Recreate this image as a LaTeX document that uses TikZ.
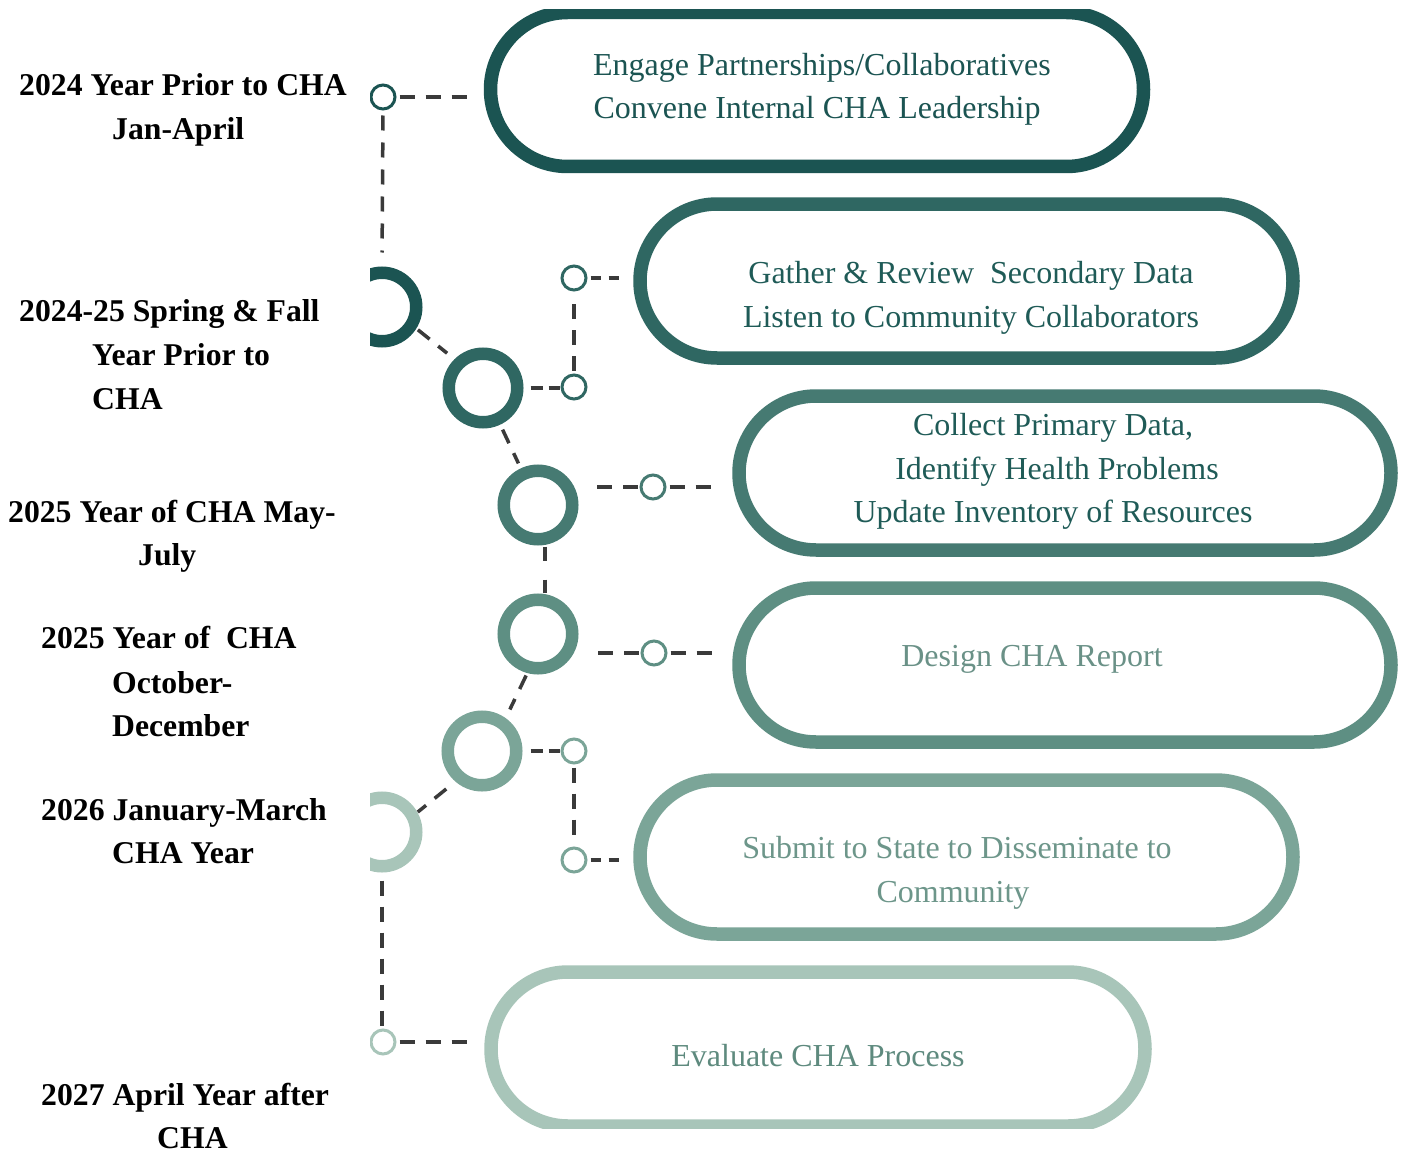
\documentclass[tikz,border=0pt]{standalone}
\usepackage{fontspec}
\setmainfont{Liberation Serif}
\usetikzlibrary{calc}
\definecolor{ca}{HTML}{1B5452}
\definecolor{cb}{HTML}{2F6762}
\definecolor{cc}{HTML}{467A72}
\definecolor{cd}{HTML}{5E8F83}
\definecolor{ce}{HTML}{7BA598}
\definecolor{cf}{HTML}{A8C5B9}
\definecolor{ta}{HTML}{1B5452}
\definecolor{tb}{HTML}{1F5B57}
\definecolor{td}{HTML}{6A9187}
\definecolor{te}{HTML}{6D968A}
\definecolor{tf}{HTML}{5E8A7E}
\definecolor{dashc}{HTML}{3A3A3A}
\begin{document}
\begin{tikzpicture}[x=1pt,y=-1pt,
  pill/.style={draw, line width=13.5pt, rounded corners=77pt, minimum height=154pt, inner sep=0pt},
  ring/.style={circle, draw, line width=12.5pt, minimum size=68.5pt, inner sep=0pt},
  dot/.style={circle, draw, line width=3pt, minimum size=24pt, inner sep=0pt, fill=white},
  conn/.style={draw=dashc, line width=3.5pt, dash pattern=on 15pt off 11pt},
  ptext/.style={font=\fontsize{32}{43.5}\selectfont, anchor=base, inner sep=0pt},
  ltext/.style={font=\fontsize{31.7}{44}\selectfont\bfseries, anchor=base west, inner sep=0pt, text=black},
]
\useasboundingbox (0,0) rectangle (1406,1153);
\fill[white] (0,0) rectangle (1406,1153);

\begin{scope}
\clip (370,10) rectangle (1406,1128);
% pills
\node[pill, draw=ca, minimum width=653pt] (p1) at (817,89.5) {};
\node[pill, draw=cb, minimum width=653pt] (p2) at (966.5,281) {};
\node[pill, draw=cc, minimum width=652pt] (p3) at (1065,473) {};
\node[pill, draw=cd, minimum width=652pt] (p4) at (1065,665) {};
\node[pill, draw=ce, minimum width=653pt] (p5) at (966.5,857) {};
\node[pill, draw=cf, minimum width=654pt] (p6) at (818,1049) {};
% rings
\node[ring, draw=ca] (ra) at (382,307) {};
\node[ring, draw=cb] (rb) at (483,388) {};
\node[ring, draw=cc] (rc) at (538,505) {};
\node[ring, draw=cd] (rd) at (538,634) {};
\node[ring, draw=ce] (re) at (482,751) {};
\node[ring, draw=cf] (rf) at (382,832) {};
% small circles
\node[dot, draw=ca] (s1) at (383,97) {};
\node[dot, draw=cb] (s2) at (574,278) {};
\node[dot, draw=cb] (s3) at (574,387) {};
\node[dot, draw=cc] (s4) at (653,487) {};
\node[dot, draw=cd] (s5) at (654,653) {};
\node[dot, draw=ce] (s6) at (574,751) {};
\node[dot, draw=ce] (s7) at (574,860) {};
\node[dot, draw=cf] (s8) at (383,1042) {};
% connectors
\draw[conn, shorten <=3pt, shorten >=12pt] (s1.east) -- (s1.east -| p1.west);
\draw[conn, dash pattern=on 15pt off 12pt, shorten <=5pt, shorten >=14pt] (s1.south) -- (ra.north);
\draw[conn, shorten <=46pt, shorten >=46pt] ($(ra.center)+(0,-6)$) -- ($(rb.center)+(0,-6)$);
\draw[conn, dash pattern=on 12pt off 6pt, shorten <=7pt, shorten >=1pt] (rb.east) -- (rb.east -| s3.west);
\draw[conn, shorten <=3pt, shorten >=3pt] (s3.north) -- (s2.south);
\draw[conn, dash pattern=on 10pt off 8pt, shorten <=3pt, shorten >=13pt] (s2.east) -- (s2.east -| p2.west);
\draw[conn, shorten <=46pt, shorten >=46pt] (rb.center) -- (rc.center);
\draw[conn, shorten <=2pt, shorten >=13pt] (s4.west) -- (s4.west -| rc.east);
\draw[conn, shorten <=3pt, shorten >=15pt] (s4.east) -- (s4.east -| p3.west);
\draw[conn, dash pattern=on 14pt off 19pt, shorten <=1pt, shorten >=1pt] ($(rc.south)+(7,0)$) -- ($(rd.north)+(7,0)$);
\draw[conn, shorten <=2pt, shorten >=15pt] (s5.west) -- (s5.west -| rd.east);
\draw[conn, shorten <=3pt, shorten >=15pt] (s5.east) -- (s5.east -| p4.west);
\draw[conn, shorten <=46pt, shorten >=46pt] ($(rd.center)+(8,0)$) -- ($(re.center)+(8,0)$);
\draw[conn, dash pattern=on 12pt off 6pt, shorten <=8pt, shorten >=1pt] (re.east) -- (re.east -| s6.west);
\draw[conn, shorten <=3pt, shorten >=3pt] (s6.south) -- (s7.north);
\draw[conn, dash pattern=on 10pt off 8pt, shorten <=3pt, shorten >=13pt] (s7.east) -- (s7.east -| p5.west);
\draw[conn, shorten <=46pt, shorten >=46pt] ($(re.center)+(0,9)$) -- ($(rf.center)+(0,9)$);
\draw[conn, shorten <=8pt, shorten >=2pt] (rf.south) -- (rf.south |- s8.north);
\draw[conn, shorten <=3pt, shorten >=14pt] (s8.east) -- (s8.east -| p6.west);
\end{scope}

% pill texts
\node[ptext, text=ta] (t1a) at (822,76) {Engage Partnerships/Collaboratives};
\node[ptext, text=ta] (t1b) at (817,119) {Convene Internal CHA Leadership};
\node[ptext, text=tb] (t2a) at (971,283) {Gather \& Review\ \ Secondary Data};
\node[ptext, text=tb] (t2b) at (971,327) {Listen to Community Collaborators};
\node[ptext, text=tb] (t3a) at (1053,435) {Collect Primary Data,};
\node[ptext, text=tb] (t3b) at (1057,479) {Identify Health Problems};
\node[ptext, text=tb] (t3c) at (1053,522) {Update Inventory of Resources};
\node[ptext, text=td] (t4a) at (1032,666) {Design CHA Report};
\node[ptext, text=te] (t5a) at (957,858) {Submit to State to Disseminate to};
\node[ptext, text=te] (t5b) at (953,902) {Community};
\node[ptext, text=tf] (t6a) at (818,1066) {Evaluate CHA Process};

% left labels
\node[ltext] (l1a) at (19,96) {2024 Year Prior to CHA};
\node[ltext] (l1b) at (112,140) {Jan-April};
\node[ltext] (l2a) at (19,321) {2024-25 Spring \& Fall};
\node[ltext] (l2b) at (92,365) {Year Prior to};
\node[ltext] (l2c) at (92,409) {CHA};
\node[ltext] (l3a) at (8,522) {2025 Year of CHA May-};
\node[ltext] (l3b) at (138,565) {July};
\node[ltext] (l4a) at (41,648) {2025 Year of\ \ CHA};
\node[ltext] (l4b) at (112,693) {October-};
\node[ltext] (l4c) at (112,736) {December};
\node[ltext] (l5a) at (41,820) {2026 January-March};
\node[ltext] (l5b) at (112,863) {CHA Year};
\node[ltext] (l6a) at (41,1105) {2027 April Year after};
\node[ltext] (l6b) at (157,1148) {CHA};
\end{tikzpicture}
\end{document}
